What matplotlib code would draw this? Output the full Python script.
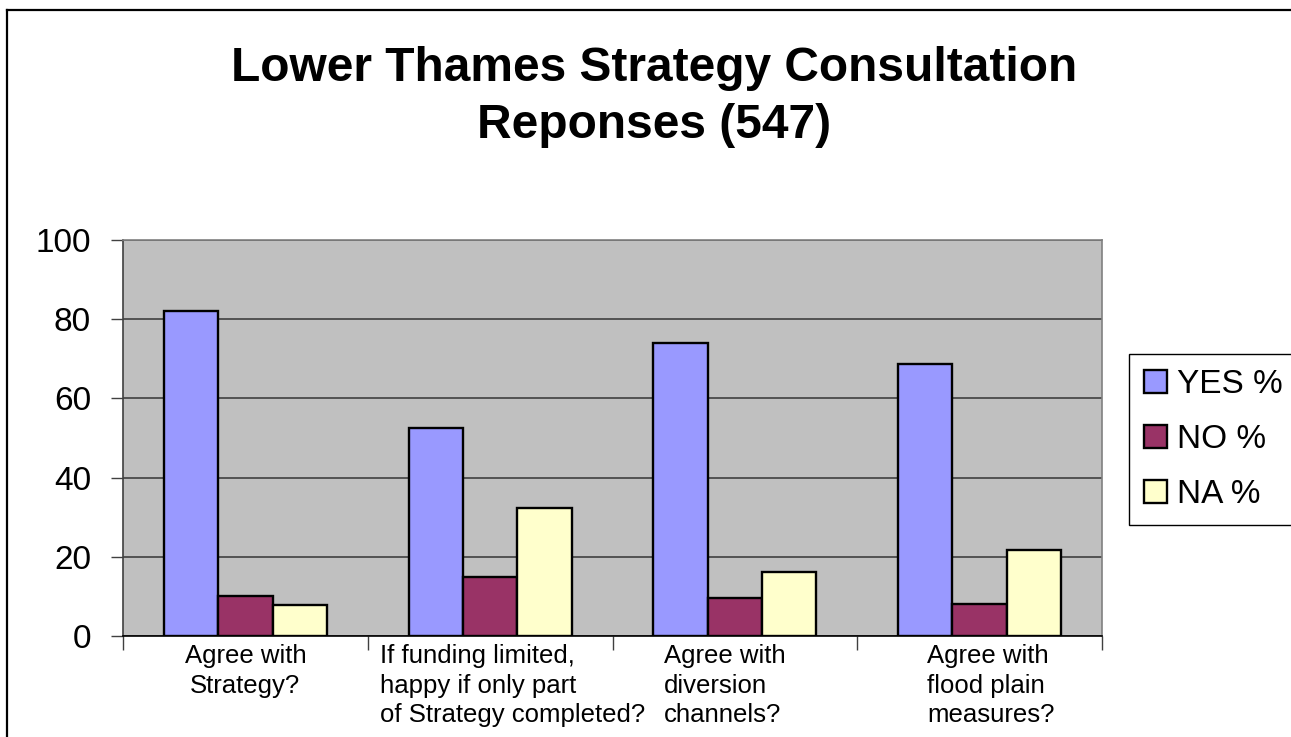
import numpy as np
import matplotlib
matplotlib.use("Agg")
import matplotlib.pyplot as plt
from matplotlib.lines import Line2D
from matplotlib.transforms import ScaledTranslation

# === data ===
questions = [
    "Agree with\nStrategy?",
    "If funding limited,\nhappy if only part\nof Strategy completed?",
    "Agree with\ndiversion\nchannels?",
    "Agree with\nflood plain\nmeasures?",
]
yes_pct = [82.0, 52.4, 74.1, 68.6]
no_pct = [10.1, 14.9, 9.5, 8.2]
na_pct = [7.8, 32.3, 16.2, 21.7]
series_names = ["YES %", "NO %", "NA %"]
colors = ["#9999FF", "#993366", "#FFFFCC"]

plt.rcParams['font.family'] = ['Liberation Sans', 'DejaVu Sans']

W, H = 1291, 737
fig = plt.figure(figsize=(W / 100, H / 100), dpi=100)
ax = fig.add_axes([123 / W, (H - 636) / H, 979 / W, 396 / H])

x = np.arange(len(questions))
bw = 1 / 4.5
for i, (vals, name, c) in enumerate(zip([yes_pct, no_pct, na_pct], series_names, colors)):
    ax.bar(x + (i - 1) * bw, vals, bw, color=c, edgecolor='black', linewidth=1.7,
           label=name, zorder=3)

ax.set_facecolor('#C0C0C0')
ax.set_xlim(-0.5, len(questions) - 0.5)
ax.set_ylim(0, 100)
ax.set_yticks(np.arange(0, 101, 20))
ax.yaxis.grid(True, color='#404040', linewidth=1.2, zorder=1)
ax.tick_params(axis='y', labelsize=24, length=9, width=1, direction='out', pad=14, color='#404040')

# group boundaries as major ticks, labels on minor ticks
ax.set_xticks(np.arange(-0.5, len(questions), 1.0))
ax.set_xticklabels([])
ax.set_xticks(x, minor=True)
ax.set_xticklabels(questions, minor=True, fontsize=18.5, linespacing=1.28)
ax.tick_params(axis='x', which='major', length=10, width=1, direction='out', color='#404040')
ax.tick_params(axis='x', which='minor', length=0, pad=6)

offsets = [0, 22, -10, 11]
for lab, dx in zip(ax.xaxis.get_minorticklabels(), offsets):
    lab.set_transform(lab.get_transform() + ScaledTranslation(dx / 100, 0, fig.dpi_scale_trans))
    if dx != 0:
        lab.set_multialignment('left')

for s in ['top', 'right']:
    ax.spines[s].set_color('#808080')
    ax.spines[s].set_linewidth(1.2)
ax.spines['left'].set_color('#404040')
ax.spines['left'].set_linewidth(1.2)
ax.spines['bottom'].set_color('black')
ax.spines['bottom'].set_linewidth(1.2)

fig.text(654 / W, 1 - 97 / H, "Lower Thames Strategy Consultation\nReponses (547)",
         ha='center', va='center', fontsize=34.5, fontweight='bold', linespacing=1.32)

leg = fig.legend(loc='upper left', bbox_to_anchor=(1129 / W, 1 - 354 / H), fontsize=24,
                 frameon=True, fancybox=False, edgecolor='black', framealpha=1,
                 handlelength=0.7, handleheight=0.7, handletextpad=0.3,
                 labelspacing=0.72, borderpad=0.45, borderaxespad=0)
leg.get_frame().set_linewidth(1.0)

# outer chart border (top and left are visible)
fig.add_artist(Line2D([7 / W, 1], [1 - 10 / H, 1 - 10 / H], color='black', linewidth=1.6,
                      transform=fig.transFigure))
fig.add_artist(Line2D([7 / W, 7 / W], [0, 1 - 10 / H], color='black', linewidth=1.6,
                      transform=fig.transFigure))

fig.savefig("out.png", dpi=100)
